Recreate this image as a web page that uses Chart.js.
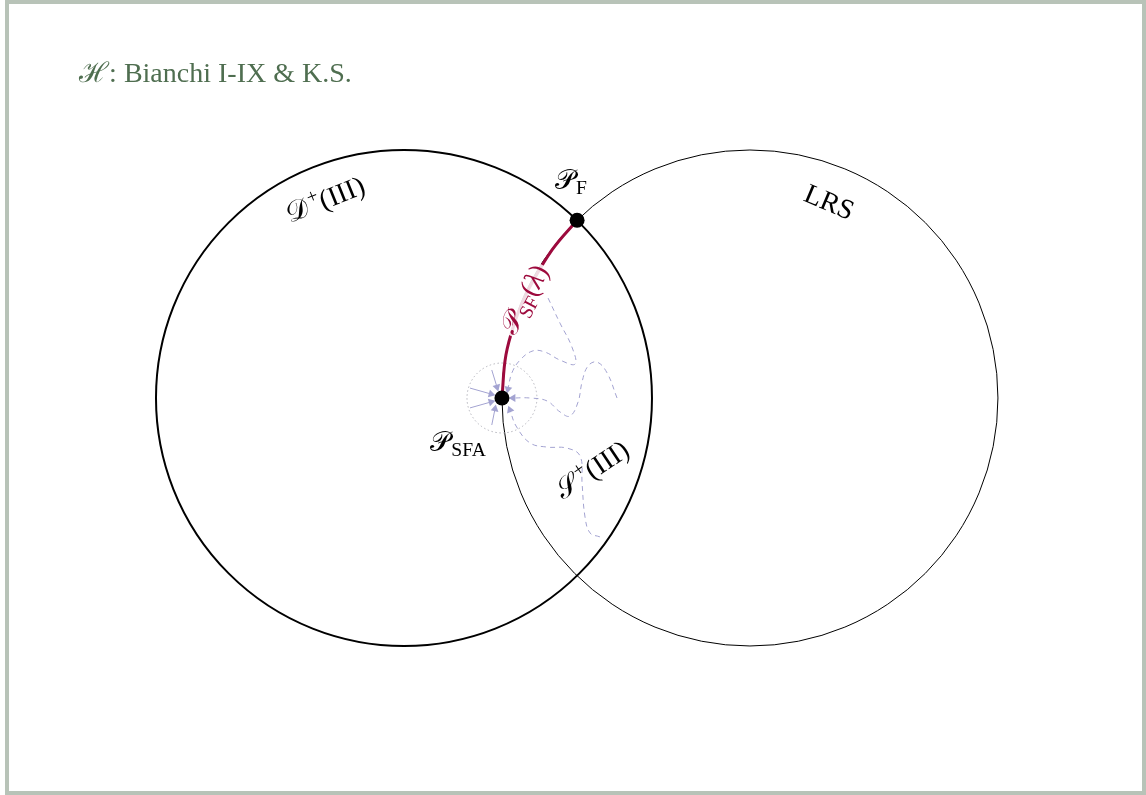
<!DOCTYPE html>
<html>
<head>
<meta charset="utf-8">
<script src="https://cdn.jsdelivr.net/npm/chart.js@4.4.1/dist/chart.umd.min.js"></script>
<style>
  body { margin: 0; background: #fff; }
  #wrap { position: relative; width: 1146px; height: 795px; background: #fff; }
  #frame { position: absolute; left: 5px; top: 0; right: 0; bottom: 0; border: 4px solid #b8c3b8; pointer-events: none; }
</style>
</head>
<body>
<div id="wrap">
  <canvas id="phase-chart"></canvas>
  <div id="frame"></div>
</div>
<script>
// phase space picture: two unit circles, fixed points, orbits
// units: radius of the circles = 1, left circle centred at 0,0

const X_MIN = -1.629, X_MAX = 2.992;
const Y_MIN = -1.601, Y_MAX = 1.605;

// circles D+(III) (left) and LRS (right)
const circleX = [0, 1.395];
const circleY = [0, 0];
const circleR = [1, 1];

// small dotted neighbourhood of P_SFA
const nbhdX = [0.395];
const nbhdY = [0];
const nbhdR = [0.141];

// fixed points P_F and P_SFA
const fixedX = [0.698, 0.395];
const fixedY = [0.717, 0];

// the line of fixed points P_SF(lambda)
const sfX = [0.395, 0.411, 0.450, 0.484, 0.505, 0.597, 0.698];
const sfY = [0, 0.173, 0.315, 0.399, 0.444, 0.597, 0.717];

// dashed orbits running into P_SFA
const orbit1X = [0.581, 0.629, 0.677, 0.690, 0.629, 0.569, 0.520, 0.468, 0.435, 0.419];
const orbit1Y = [0.403, 0.302, 0.206, 0.137, 0.153, 0.185, 0.190, 0.153, 0.101, 0.036];
const orbit2X = [0.859, 0.819, 0.778, 0.742, 0.718, 0.702, 0.669, 0.629, 0.577, 0.508, 0.440];
const orbit2Y = [0, 0.101, 0.145, 0.129, 0.065, -0.016, -0.073, -0.056, -0.012, 0, 0];
const orbit3X = [0.790, 0.750, 0.730, 0.718, 0.710, 0.657, 0.577, 0.508, 0.452, 0.427];
const orbit3Y = [-0.560, -0.544, -0.480, -0.343, -0.234, -0.202, -0.198, -0.181, -0.113, -0.048];

// short arrows from the dotted circle
const arrowStartX = [0.354, 0.266, 0.266, 0.354];
const arrowStartY = [0.113, 0.040, -0.040, -0.109];
const arrowEndX = [0.375, 0.351, 0.351, 0.367];
const arrowEndY = [0.044, 0.016, -0.016, -0.044];

const RED = '#9d0a3d';
const LAV = '#a3a3d1';
const FONT = "'Liberation Serif', 'DejaVu Serif', serif";

function pts(xs, ys) {
  return xs.map((x, i) => ({ x: x, y: ys[i] }));
}

function unitPx(chart) {
  const s = chart.scales.x;
  return s.getPixelForValue(1) - s.getPixelForValue(0);
}

function arrowAngle(ctx) {
  const d = ctx.dataset.data, i = ctx.dataIndex;
  if (i === 0) return 0;
  const xs = ctx.chart.scales.x, ys = ctx.chart.scales.y;
  const dx = xs.getPixelForValue(d[i].x) - xs.getPixelForValue(d[i - 1].x);
  const dy = ys.getPixelForValue(d[i].y) - ys.getPixelForValue(d[i - 1].y);
  return Math.atan2(dx, -dy) * 180 / Math.PI;
}

function lastOnly(size) {
  return ctx => ctx.dataIndex === ctx.dataset.data.length - 1 ? size : 0;
}

function orbit(xs, ys) {
  return {
    type: 'line', data: pts(xs, ys), borderColor: LAV, borderWidth: 1,
    borderDash: [5, 4], tension: 0.4, fill: false,
    pointStyle: 'triangle', pointRadius: lastOnly(4.5), pointRotation: arrowAngle,
    pointBackgroundColor: LAV, pointBorderWidth: 0, order: 4, clip: false
  };
}

const datasets = [];

datasets.push({
  type: 'scatter', data: pts(circleX, circleY),
  pointRadius: ctx => unitPx(ctx.chart) * circleR[ctx.dataIndex],
  pointBorderWidth: ctx => ctx.dataIndex === 0 ? 2 : 1,
  pointBorderColor: '#000', pointBackgroundColor: 'rgba(0,0,0,0)', order: 6, clip: false
});

datasets.push({
  type: 'scatter', data: pts(nbhdX, nbhdY), dotted: true,
  pointRadius: ctx => unitPx(ctx.chart) * nbhdR[ctx.dataIndex],
  pointBorderWidth: 1, pointBorderColor: '#b4b4bc', pointBackgroundColor: 'rgba(0,0,0,0)',
  order: 5, clip: false
});

datasets.push(orbit(orbit1X, orbit1Y));
datasets.push(orbit(orbit2X, orbit2Y));
datasets.push(orbit(orbit3X, orbit3Y));

arrowStartX.forEach((x, i) => {
  datasets.push({
    type: 'line', data: pts([x, arrowEndX[i]], [arrowStartY[i], arrowEndY[i]]),
    borderColor: LAV, borderWidth: 1, tension: 0,
    pointStyle: 'triangle', pointRadius: lastOnly(4.5), pointRotation: arrowAngle,
    pointBackgroundColor: LAV, pointBorderWidth: 0, order: 3, clip: false
  });
});

datasets.push({
  type: 'line', data: pts(sfX, sfY), borderColor: RED, borderWidth: 3,
  tension: 0.4, pointRadius: 0, order: 2, clip: false
});

datasets.push({
  type: 'scatter', data: pts(fixedX, fixedY), pointRadius: 7.5,
  pointBackgroundColor: '#000', pointBorderWidth: 0, order: 1, clip: false
});

// labels: anchor in data units, runs of text
const labels = [
  { x: -1.310, y: 1.310, rot: 0, align: 'left', color: '#4f6e50',
    runs: [{ t: 'ℋ' }, { t: ': Bianchi I-IX & K.S.' }] },
  { x: -0.318, y: 0.800, rot: -22, color: '#000',
    runs: [{ t: '𝒟', gap: 3 }, { t: '+', level: 'sup' }, { t: '(III)' }] },
  { x: 0.673, y: 0.880, rot: 0, color: '#000',
    runs: [{ t: '𝒫', gap: 1 }, { t: 'F', level: 'sub' }] },
  { x: 1.715, y: 0.790, rot: 23, color: '#000',
    runs: [{ t: 'LRS' }] },
  { x: 0.484, y: 0.399, rot: -62, color: RED, box: true,
    runs: [{ t: '𝒫', gap: 1 }, { t: 'SF', level: 'sub' }, { t: '(' }, { t: 'λ', italic: true }, { t: ')' }] },
  { x: 0.218, y: -0.176, rot: 0, color: '#000',
    runs: [{ t: '𝒫', gap: 1 }, { t: 'SFA', level: 'sub' }] },
  { x: 0.758, y: -0.290, rot: -34, color: '#000',
    runs: [{ t: '𝒮', gap: 3 }, { t: '+', level: 'sup' }, { t: '(III)' }] }
];

function runFont(run, size) {
  const s = run.level ? size * 0.7 : size;
  return (run.italic ? 'italic ' : '') + s + 'px ' + FONT;
}

const labelPlugin = {
  id: 'labels',
  afterDatasetsDraw(chart) {
    const c = chart.ctx;
    const size = 28;
    labels.forEach(lb => {
      const px = chart.scales.x.getPixelForValue(lb.x);
      const py = chart.scales.y.getPixelForValue(lb.y);
      let total = 0;
      const widths = lb.runs.map(r => {
        c.font = runFont(r, size);
        const w = c.measureText(r.t).width + (r.gap || 0);
        total += w;
        return w;
      });
      c.save();
      c.translate(px, py);
      c.rotate(lb.rot * Math.PI / 180);
      let x = lb.align === 'left' ? 0 : -total / 2;
      if (lb.box) {
        c.fillStyle = 'rgba(255,255,255,0.85)';
        c.fillRect(x - 2, -size * 0.5, total + 4, size * 1.0);
      }
      c.fillStyle = lb.color;
      c.textBaseline = 'alphabetic';
      lb.runs.forEach((r, i) => {
        c.font = runFont(r, size);
        let dy = size * 0.32;
        if (r.level === 'sub') dy += size * 0.2;
        if (r.level === 'sup') dy -= size * 0.38;
        c.fillText(r.t, x, dy);
        x += widths[i];
      });
      c.restore();
    });
  }
};

const dottedPlugin = {
  id: 'dotted',
  beforeDatasetDraw(chart, args) {
    if (chart.data.datasets[args.index].dotted) {
      chart.ctx.save();
      chart.ctx.setLineDash([1.5, 2.5]);
    }
  },
  afterDatasetDraw(chart, args) {
    if (chart.data.datasets[args.index].dotted) chart.ctx.restore();
  }
};

const chartInstance = new Chart(document.getElementById('phase-chart'), {
  type: 'scatter',
  data: { datasets: datasets },
  options: {
    responsive: true,
    maintainAspectRatio: false,
    animation: false,
    events: [],
    layout: { padding: 0, autoPadding: false },
    plugins: { legend: { display: false }, tooltip: { enabled: false } },
    scales: {
      x: { type: 'linear', display: false, min: X_MIN, max: X_MAX },
      y: { type: 'linear', display: false, min: Y_MIN, max: Y_MAX }
    }
  },
  plugins: [dottedPlugin, labelPlugin]
});
</script>
</body>
</html>
